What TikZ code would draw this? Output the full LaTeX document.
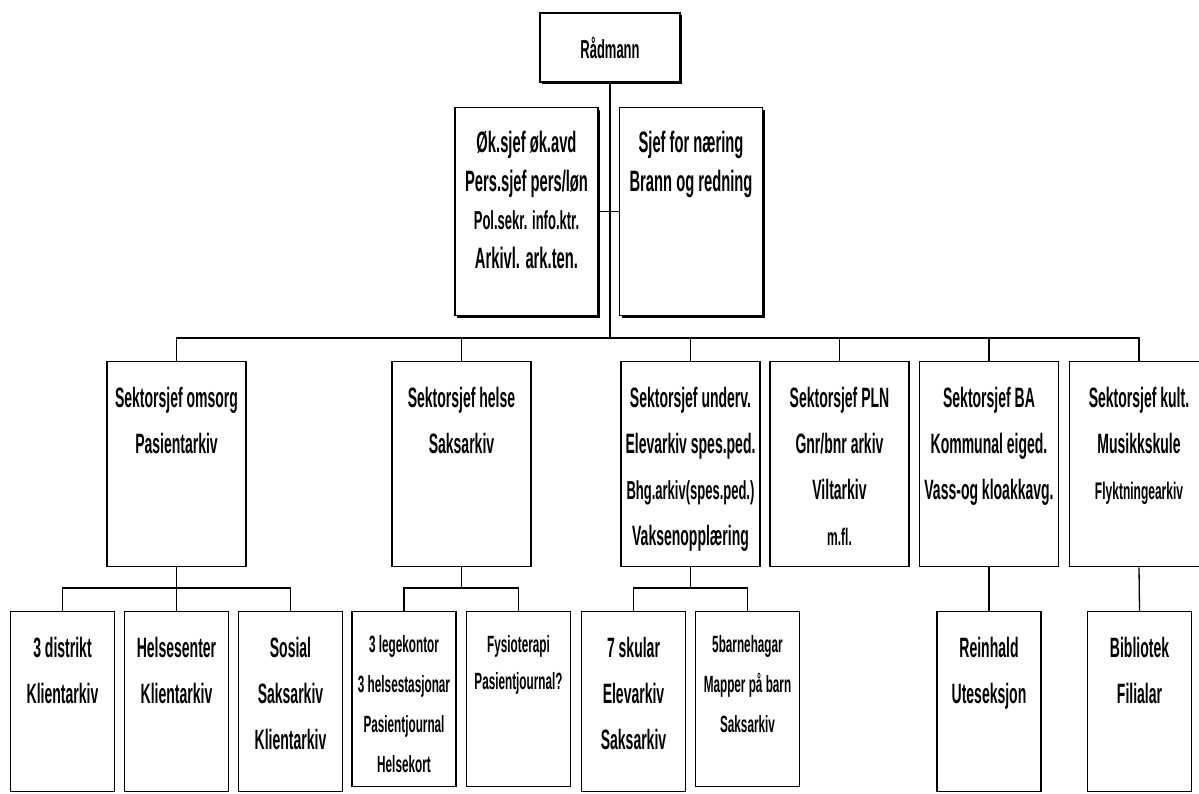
\documentclass[tikz,border=0pt]{standalone}
\usepackage{fontspec}
\setmainfont{Liberation Sans}[FakeStretch=0.5]
\usetikzlibrary{shadows}

\begin{document}
\begin{tikzpicture}[x=1pt, y=-1pt, line width=1.3pt,
    unit/.style={draw, fill=white, inner sep=0pt, anchor=north, align=flush center,
                 font=\bfseries\fontsize{28}{46}\selectfont},
    top/.style={unit, drop shadow={shadow xshift=2pt, shadow yshift=-2pt, fill=black, opacity=1}},
    staff/.style={top, text width=143pt, text height=45pt, text depth=163pt,
                  font=\bfseries\fontsize{29.5}{38.5}\selectfont},
    sector/.style={unit, text width=139pt, text height=46pt, text depth=159pt},
    leaf/.style={unit, text width=104pt, text height=46pt, text depth=134pt},
    small/.style={font=\bfseries\fontsize{23.5}{40}\selectfont, text height=41pt}]

    \useasboundingbox (0,0) rectangle (1199,793);

    \def \sectortop{361}
    \def \leaftop{611}

    % RAADMANN AND STAFF
    \node[top, anchor=center, minimum width=140pt, minimum height=69pt,
          font=\bfseries\fontsize{26}{30}\selectfont] (chief) at (610,47.5) {Rådmann};
    \node[staff] (okadm) at (526.5,107) {Øk.sjef øk.avd\\Pers.sjef pers/løn\\
        {\fontsize{26}{38.5}\selectfont Pol.sekr. info.ktr.}\\Arkivl. ark.ten.};
    \node[staff] (naering) at (691,107) {Sjef for næring\\Brann og redning};

    \coordinate (bus) at (610,338);

    % SECTORS
    \node[sector] (omsorg) at (176.5,\sectortop) {Sektorsjef omsorg\\Pasientarkiv};
    \node[sector] (helse)  at (461.5,\sectortop) {Sektorsjef helse\\Saksarkiv};
    \node[sector] (underv) at (690.5,\sectortop) {Sektorsjef underv.\\Elevarkiv spes.ped.\\
        {\fontsize{26}{46}\selectfont Bhg.arkiv(spes.ped.)}\\Vaksenopplæring};
    \node[sector] (pln)    at (839.5,\sectortop) {Sektorsjef PLN\\Gnr/bnr arkiv\\Viltarkiv\\
        {\fontsize{24}{46}\selectfont m.fl.}};
    \node[sector] (ba)     at (989,\sectortop)   {Sektorsjef BA\\Kommunal eiged.\\Vass-og kloakkavg.};
    \node[sector] (kult)   at (1139,\sectortop)  {Sektorsjef kult.\\Musikkskule\\
        {\fontsize{24}{46}\selectfont Flyktningearkiv}};

    % LEAVES
    \node[leaf] (distrikt)  at (62.5,\leaftop)   {3 distrikt\\Klientarkiv};
    \node[leaf] (senter)    at (176.5,\leaftop)  {Helsesenter\\Klientarkiv};
    \node[leaf] (sosial)    at (290.5,\leaftop)  {Sosial\\Saksarkiv\\Klientarkiv};
    \node[leaf, small] (lege)  at (404,\leaftop) {3 legekontor\\3 helsestasjonar\\Pasientjournal\\Helsekort};
    \node[leaf, small, font=\bfseries\fontsize{23.5}{37}\selectfont] (fysio) at (518.5,\leaftop) {Fysioterapi\\Pasientjournal?};
    \node[leaf] (skular)    at (633.5,\leaftop)  {7 skular\\Elevarkiv\\Saksarkiv};
    \node[leaf, small] (barnehage) at (747.5,\leaftop) {5barnehagar\\Mapper på barn\\Saksarkiv};
    \node[leaf] (reinhald)  at (989,\leaftop)    {Reinhald\\Uteseksjon};
    \node[leaf] (bibliotek) at (1139.5,\leaftop) {Bibliotek\\Filialar};

    % LINES
    \draw (chief.south) -- (bus);
    \draw (okadm.east) -- (naering.west);
    \draw (omsorg.north) |- (bus) -| (kult.north);
    \foreach \s in {helse, underv, pln, ba}{
        \draw (\s.north) -- (\s.north |- bus);
    }

    \draw (distrikt.north) -- ++(0,-23) -| (sosial.north);
    \draw (omsorg.south) -- (senter.north);
    \draw (lege.north) -- ++(0,-23) -| (fysio.north);
    \draw (helse.south) -- ++(0,22);
    \draw (skular.north) -- ++(0,-23) -| (barnehage.north);
    \draw (underv.south) -- ++(0,22);
    \draw (ba.south) -- (reinhald.north);
    \draw (kult.south) -- (bibliotek.north);

\end{tikzpicture}
\end{document}
